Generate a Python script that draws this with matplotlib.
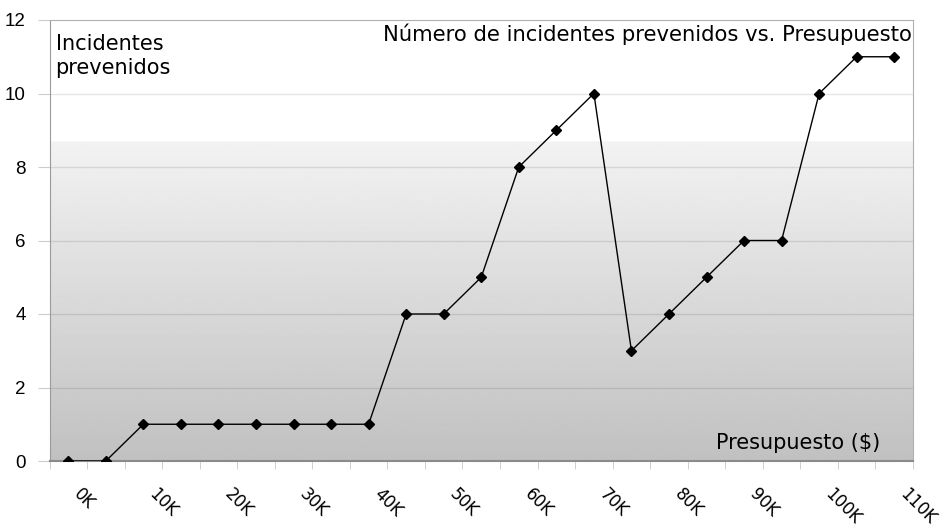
import numpy as np
import matplotlib
matplotlib.use("Agg")
import matplotlib.pyplot as plt
import matplotlib.transforms as mtransforms

# Data
budget_labels = ["0K", "5K", "10K", "15K", "20K", "25K", "30K", "35K", "40K", "45K", "50K", "55K",
                 "60K", "65K", "70K", "75K", "80K", "85K", "90K", "95K", "100K", "105K", "110K"]
incidents = [0, 0, 1, 1, 1, 1, 1, 1, 1, 4, 4, 5, 8, 9, 10, 3, 4, 5, 6, 6, 10, 11, 11]
yticks = [0, 2, 4, 6, 8, 10, 12]

title = "Número de incidentes prevenidos vs. Presupuesto"
ylabel = "Incidentes\nprevenidos"
xlabel = "Presupuesto ($)"

W, H = 948, 529
fig = plt.figure(figsize=(W / 100, H / 100), dpi=100)
left, right, top, bottom = 49.5, 913, 20, 461
ax = fig.add_axes([left / W, 1 - bottom / H, (right - left) / W, (bottom - top) / H])

n = len(incidents)
x = np.arange(n)
ax.set_xlim(-0.5, n - 0.5)
ax.set_ylim(0, 12)

# Background gradient
yy = np.linspace(12, 0, 400)
vals = np.where(yy > 8.7, 1.0, 0.95 - (8.7 - yy) / 8.7 * (0.95 - 0.755))
vals = np.clip(vals, 0, 1)
img = np.repeat(vals[:, None], 2, axis=1)
ax.imshow(img, cmap="gray", vmin=0, vmax=1, extent=[-0.5, n - 0.5, 0, 12],
          aspect="auto", zorder=0, interpolation="bilinear")

# Grid
for yv in yticks[1:-1]:
    ax.axhline(yv, color="black", alpha=0.10, lw=1.0, zorder=1)

ax.plot(x, incidents, color="black", lw=1.0, marker="D", markersize=5.5,
        markerfacecolor="black", markeredgecolor="black", zorder=3)

# Spines
ax.spines["left"].set_color("#9a9a9a")
ax.spines["bottom"].set_color("#8a8a8a")
ax.spines["bottom"].set_linewidth(1.5)
ax.spines["top"].set_color("#b0b0b0")
ax.spines["right"].set_color("#b0b0b0")

# Y ticks
ax.set_yticks(yticks)
ax.set_yticklabels([str(v) for v in yticks], family="Liberation Sans", fontsize=13.5)
ax.tick_params(axis="y", length=9, color="#cccccc", pad=8, direction="out")

# X ticks: labels at every other category, tick marks at boundaries
ax.set_xticks(x[::2])
ax.set_xticklabels(budget_labels[::2], rotation=-45, rotation_mode="anchor",
                   ha="left", va="top", fontsize=12, family="DejaVu Sans")
ax.tick_params(axis="x", which="major", length=0, pad=17)
ax.set_xticks(np.arange(n + 1) - 0.5, minor=True)
ax.tick_params(axis="x", which="minor", length=6, color="#c8c8c8", direction="out")
offset = mtransforms.ScaledTranslation(15 / 100, 0, fig.dpi_scale_trans)
for lab in ax.get_xticklabels():
    lab.set_transform(lab.get_transform() + offset)

# Texts
ax.text(0.007, 0.968, ylabel, transform=ax.transAxes, ha="left", va="top",
        fontsize=15, family="DejaVu Sans", linespacing=1.25, zorder=4)
ax.text(0.999, 0.993, title, transform=ax.transAxes, ha="right", va="top",
        fontsize=15.2, family="DejaVu Sans", zorder=4)
ax.text(0.962, 0.018, xlabel, transform=ax.transAxes, ha="right", va="bottom",
        fontsize=15, family="DejaVu Sans", zorder=4)

fig.savefig("out.png", dpi=100)
